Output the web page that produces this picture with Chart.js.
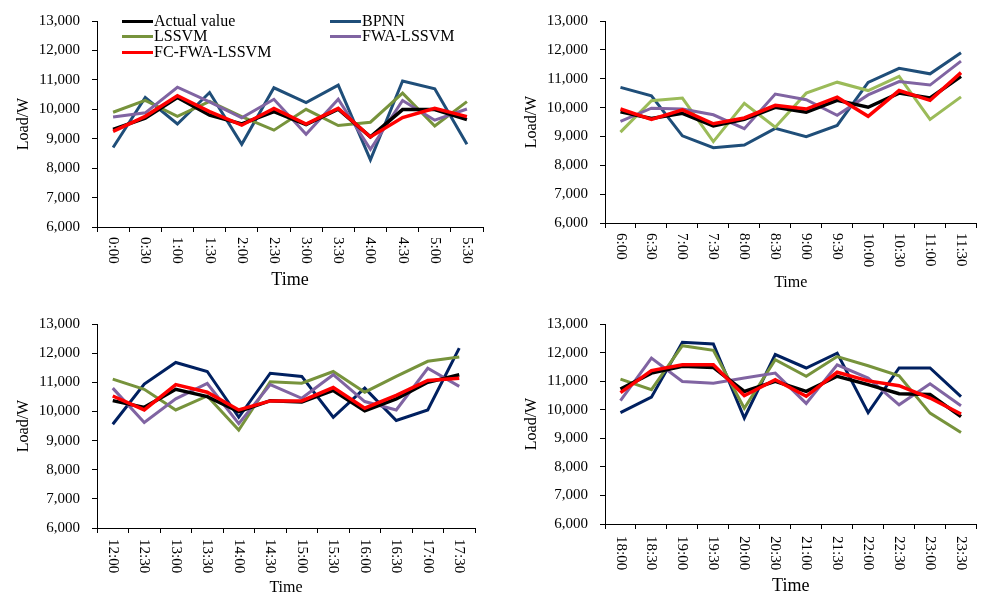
<!DOCTYPE html>
<html>
<head>
<meta charset="utf-8">
<script src="https://cdn.jsdelivr.net/npm/chart.js@4.4.1/dist/chart.umd.min.js"></script>
<style>
  html, body { margin: 0; padding: 0; background: #fff; width: 982px; height: 594px; overflow: hidden; }
  .panel { position: absolute; }
  #legend { position: absolute; left: 122px; top: 13px; font: 16px "Liberation Serif", "Times New Roman", serif; color: #000; }
  .item { position: absolute; white-space: nowrap; line-height: 16px; height: 16px; }
  .item i { display: inline-block; width: 31px; height: 3px; vertical-align: middle; margin-right: 1px; position: relative; top: -1px; }
</style>
</head>
<body>
<div class="panel" style="left:0;top:0;width:490px;height:295px"><canvas id="c1"></canvas></div>
<div class="panel" style="left:500px;top:0;width:482px;height:295px"><canvas id="c2"></canvas></div>
<div class="panel" style="left:0;top:300px;width:490px;height:297px"><canvas id="c3"></canvas></div>
<div class="panel" style="left:500px;top:300px;width:482px;height:297px"><canvas id="c4"></canvas></div>
<div id="legend"></div>
<script>
// series names
const seriesNames = ['Actual value', 'BPNN', 'LSSVM', 'FWA-LSSVM', 'FC-FWA-LSSVM'];

// 0:00 - 5:30
const times1 = ['0:00', '0:30', '1:00', '1:30', '2:00', '2:30', '3:00', '3:30', '4:00', '4:30', '5:00', '5:30'];
const actual1 = [9320, 9700, 10400, 9800, 9500, 9920, 9480, 10000, 9060, 9990, 9990, 9650];
const bpnn1 = [8700, 10400, 9500, 10570, 8810, 10730, 10230, 10820, 8280, 10960, 10700, 8810];
const lssvm1 = [9900, 10300, 9760, 10270, 9750, 9290, 10000, 9450, 9560, 10550, 9430, 10260];
const fwa1 = [9740, 9880, 10750, 10250, 9710, 10340, 9150, 10340, 8640, 10300, 9630, 10010];
const fc1 = [9250, 9760, 10460, 9920, 9460, 10030, 9500, 10030, 9060, 9720, 10030, 9750];

// 6:00 - 11:30
const times2 = ['6:00', '6:30', '7:00', '7:30', '8:00', '8:30', '9:00', '9:30', '10:00', '10:30', '11:00', '11:30'];
const actual2 = [9850, 9620, 9800, 9360, 9590, 10010, 9840, 10250, 10010, 10500, 10330, 11080];
const bpnn2 = [10700, 10410, 9020, 8610, 8700, 9280, 8990, 9380, 10870, 11360, 11170, 11900];
const lssvm2 = [9150, 10240, 10330, 8820, 10150, 9320, 10500, 10880, 10590, 11080, 9590, 10370];
const fwa2 = [9520, 9980, 9950, 9750, 9270, 10470, 10270, 9730, 10440, 10900, 10780, 11610];
const fc2 = [9950, 9590, 9920, 9440, 9640, 10080, 9950, 10360, 9700, 10590, 10250, 11210];

// 12:00 - 17:30
const times3 = ['12:00', '12:30', '13:00', '13:30', '14:00', '14:30', '15:00', '15:30', '16:00', '16:30', '17:00', '17:30'];
const actual3 = [10370, 10140, 10760, 10510, 9990, 10370, 10320, 10720, 10020, 10430, 11000, 11260];
const bpnn3 = [9560, 10940, 11680, 11370, 9800, 11310, 11200, 9800, 10800, 9690, 10050, 12170];
const lssvm3 = [11110, 10760, 10050, 10530, 9360, 11020, 10970, 11370, 10660, 11200, 11720, 11870];
const fwa3 = [10800, 9620, 10430, 10960, 9580, 10920, 10450, 11260, 10340, 10050, 11480, 10860];
const fc3 = [10530, 10050, 10920, 10660, 10050, 10360, 10360, 10820, 10110, 10550, 11060, 11140];

// 18:00 - 23:30
const times4 = ['18:00', '18:30', '19:00', '19:30', '20:00', '20:30', '21:00', '21:30', '22:00', '22:30', '23:00', '23:30'];
const actual4 = [10720, 11280, 11520, 11480, 10640, 10990, 10640, 11170, 10880, 10560, 10530, 9760];
const bpnn4 = [9900, 10440, 12360, 12300, 9710, 11930, 11460, 11980, 9900, 11460, 11460, 10460];
const lssvm4 = [11070, 10700, 12240, 12080, 10050, 11750, 11170, 11860, 11540, 11190, 9880, 9200];
const fwa4 = [10320, 11810, 10990, 10930, 11110, 11280, 10220, 11570, 11110, 10170, 10910, 10140];
const fc4 = [10600, 11370, 11570, 11570, 10490, 11050, 10470, 11310, 11010, 10840, 10410, 9850];

const yTicks = [6000, 7000, 8000, 9000, 10000, 11000, 12000, 13000];

const FONT = '"Liberation Serif", "Times New Roman", serif';

// legend (panel 1 only)
const legendColors = ['#000000', '#1f4e79', '#77933c', '#8064a2', '#ff0000'];
const legendPos = [[0, 0], [208, 0], [0, 15], [208, 15], [0, 31]];
document.getElementById('legend').innerHTML = seriesNames.map((n, i) =>
  `<div class="item" style="left:${legendPos[i][0]}px;top:${legendPos[i][1]}px"><i style="background:${legendColors[i]}"></i>${n}</div>`
).join('');

// x labels read top-to-bottom, so they are drawn here on the library's tick positions
const vLabels = {
  id: 'vLabels',
  afterDraw(chart, args, opts) {
    const sc = chart.scales.x;
    const ctx = chart.ctx;
    ctx.save();
    ctx.font = '15px ' + FONT;
    ctx.fillStyle = '#000';
    ctx.textAlign = 'left';
    ctx.textBaseline = 'middle';
    chart.data.labels.forEach((lab, i) => {
      const x = sc.getPixelForTick(i);
      ctx.save();
      ctx.translate(x, sc.top + opts.gap);
      ctx.rotate(Math.PI / 2);
      ctx.fillText(lab, 0, 0);
      ctx.restore();
    });
    ctx.restore();
  }
};

function makeChart(id, cfg) {
  const ds = [
    { label: seriesNames[1], data: cfg.bpnn, borderColor: cfg.blue, order: 4 },
    { label: seriesNames[2], data: cfg.lssvm, borderColor: cfg.green, order: 3 },
    { label: seriesNames[3], data: cfg.fwa, borderColor: '#8064a2', order: 2 },
    { label: seriesNames[0], data: cfg.actual, borderColor: '#000000', order: 1, borderWidth: 3.5 },
    { label: seriesNames[4], data: cfg.fc, borderColor: '#ff0000', order: 0, borderWidth: 3.5 }
  ];
  ds.forEach(d => {
    d.borderWidth = d.borderWidth || 3;
    d.pointRadius = 0;
    d.tension = 0;
    d.fill = false;
  });

  return new Chart(document.getElementById(id), {
    type: 'line',
    data: { labels: cfg.labels, datasets: ds },
    plugins: [vLabels],
    options: {
      responsive: true,
      maintainAspectRatio: false,
      animation: false,
      layout: { padding: cfg.pad },
      plugins: {
        legend: { display: false },
        tooltip: { enabled: false },
        vLabels: { gap: cfg.gap }
      },
      scales: {
        x: {
          offset: true,
          afterFit: s => { s.height = cfg.xh; },
          grid: { display: true, drawOnChartArea: false, drawTicks: true, tickLength: 5, color: '#000', offset: true },
          border: { color: '#000', width: 1 },
          ticks: { color: 'rgba(0,0,0,0)', minRotation: 90, maxRotation: 90, autoSkip: false, font: { family: FONT, size: 15 } },
          title: { display: true, text: 'Time', color: '#000', font: { family: FONT, size: cfg.tsize }, padding: { top: 0, bottom: cfg.tpad } }
        },
        y: {
          min: 6000,
          max: 13000,
          afterFit: s => { s.width = cfg.yw; },
          afterBuildTicks: s => { s.ticks = yTicks.map(v => ({ value: v })); },
          grid: { display: true, drawOnChartArea: false, drawTicks: true, tickLength: 5, color: '#000' },
          border: { color: '#000', width: 1 },
          ticks: {
            color: '#000',
            padding: 12,
            font: { family: FONT, size: 15 },
            callback: v => v.toLocaleString('en-US')
          },
          title: { display: true, text: 'Load/W', color: '#000', font: { family: FONT, size: 16 }, padding: { top: cfg.ypad, bottom: 0 } }
        }
      }
    }
  });
}

makeChart('c1', {
  labels: times1, actual: actual1, bpnn: bpnn1, lssvm: lssvm1, fwa: fwa1, fc: fc1,
  blue: '#1f4e79', green: '#77933c',
  pad: { top: 19, right: 7, left: 0, bottom: 0 }, yw: 97, xh: 68, gap: 10, tsize: 18, tpad: 4, ypad: 14
});
makeChart('c2', {
  labels: times2, actual: actual2, bpnn: bpnn2, lssvm: lssvm2, fwa: fwa2, fc: fc2,
  blue: '#1f4e79', green: '#9bbb59',
  pad: { top: 19, right: 0, left: 0, bottom: 0 }, yw: 105, xh: 72, gap: 10, tsize: 16, tpad: 3, ypad: 22
});
makeChart('c3', {
  labels: times3, actual: actual3, bpnn: bpnn3, lssvm: lssvm3, fwa: fwa3, fc: fc3,
  blue: '#002060', green: '#77933c',
  pad: { top: 24, right: 15, left: 0, bottom: 0 }, yw: 97, xh: 69, gap: 11, tsize: 16, tpad: 0, ypad: 14
});
makeChart('c4', {
  labels: times4, actual: actual4, bpnn: bpnn4, lssvm: lssvm4, fwa: fwa4, fc: fc4,
  blue: '#002060', green: '#77933c',
  pad: { top: 24, right: 0, left: 0, bottom: 0 }, yw: 105, xh: 73, gap: 12, tsize: 18, tpad: 0, ypad: 22
});
</script>
</body>
</html>
